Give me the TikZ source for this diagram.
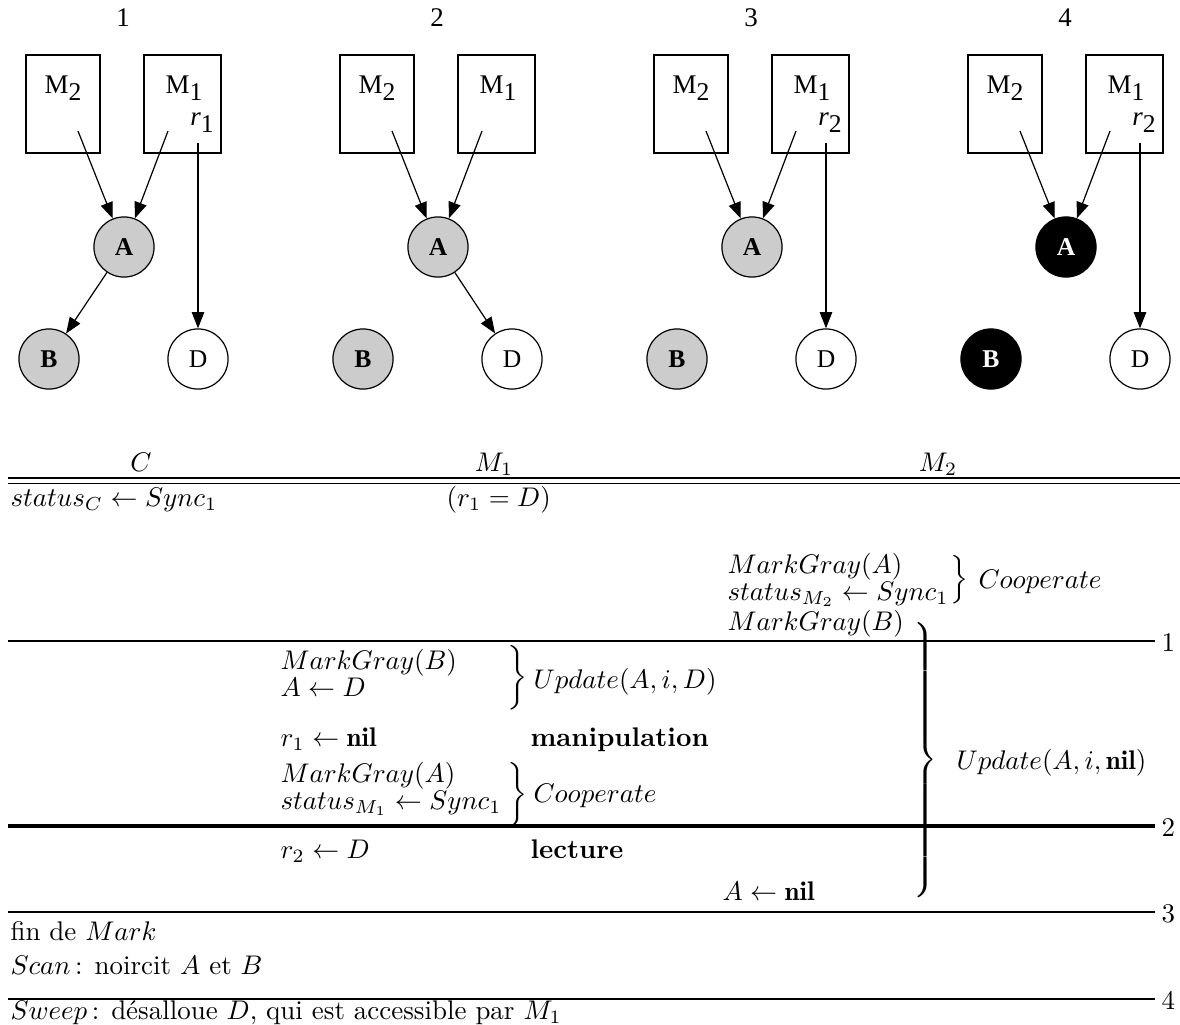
\documentclass[tikz,border=0pt]{standalone}
\usepackage{fontspec}
\newfontfamily\palfont{Liberation Serif}
\usetikzlibrary{arrows.meta}
\newcommand{\bracedelim}[1]{$\left.\vcenter{\hbox{\rule{0pt}{#1}}}\right\}$}
\newcommand{\lowsub}[1]{\raisebox{-2.6pt}{\fontsize{9.5}{9.5}\selectfont #1}}
\tikzset{
  mbox/.style={draw,line width=0.45pt,minimum height=36.4pt,inner sep=0},
  mlab/.style={inner sep=0,font=\palfont\fontsize{10}{12}\selectfont},
  num/.style={inner sep=0,font=\palfont\fontsize{10}{12}\selectfont},
  gcirc/.style={circle,draw,line width=0.45pt,fill=black!20,minimum size=22.3pt,inner sep=0,font=\palfont\fontsize{9.5}{11}\selectfont\bfseries},
  bcirc/.style={circle,draw,line width=0.45pt,fill=black,text=white,minimum size=22.3pt,inner sep=0,font=\palfont\fontsize{9.5}{11}\selectfont\bfseries},
  wcirc/.style={circle,draw,line width=0.45pt,fill=white,minimum size=22.3pt,inner sep=0,font=\palfont\fontsize{9.5}{11}\selectfont},
  arr/.style={-{Triangle[length=6pt,width=4.6pt]},line width=0.45pt},
  tl/.style={anchor=base west,inner sep=0},
  hd/.style={anchor=base,inner sep=0},
  rule/.style={line width=0.7pt},
  thickrule/.style={line width=1.15pt},
  brc/.style={inner sep=0,anchor=center},
}
\newcommand{\basepanel}[4]{%
  \begin{scope}[shift={(#2,0)}]
    \node[num] (#1n) at (123,18) {#3};
    \node[mbox,minimum width=27.5pt] (#1b2) at (63,104) {};
    \node[mbox,minimum width=28.6pt] (#1b1) at (182.5,104) {};
    \node[mlab] (#1l2) at (63,88) {M\lowsub{2}};
    \node[mlab] (#1l1) at (184,88) {M\lowsub{1}};
    \node[#4] (#1A) at (124,247) {A};
    \node[#4] (#1B) at (49,359) {B};
    \node[wcirc] (#1D) at (198,359) {D};
    \coordinate (#1s2) at (78,131);
    \coordinate (#1s1) at (168,131);
    \coordinate (#1sr) at (198,143);
    \draw[arr] (#1s2) -- (#1A);
    \draw[arr] (#1s1) -- (#1A);
  \end{scope}}
\begin{document}
\begin{tikzpicture}[x=0.371pt,y=-0.371pt]
\useasboundingbox (0,0) rectangle (1180,1024);
% ---------- top panels ----------
\basepanel{p}{0}{1}{gcirc}
\node[mlab] (pr) at (202,123) {\textit{r}\lowsub{1}};
\draw[arr] (psr) -- (pD);
\draw[arr] (pA) -- (pB);

\basepanel{q}{314}{2}{gcirc}
\draw[arr] (qA) -- (qD);

\basepanel{s}{628}{3}{gcirc}
\node[mlab] (sr) at (830,123) {\textit{r}\lowsub{2}};
\draw[arr] (ssr) -- (sD);

\basepanel{u}{942}{4}{bcirc}
\node[mlab] (ur) at (1144,123) {\textit{r}\lowsub{2}};
\draw[arr] (usr) -- (uD);

% ---------- table ----------
\node[hd] (hC) at (141,471) {$C$};
\node[hd] (hM1) at (494,471) {$M_1$};
\node[hd] (hM2) at (938,471) {$M_2$};
\draw[rule] (8,478) -- (1180,478);
\draw[rule] (8,483.5) -- (1180,483.5);

\node[tl] (t1) at (10,506) {$status_C \leftarrow Sync_1$};
\node[tl] (t2) at (446,506) {$(r_1 = D)$};

\node[tl] (t3) at (727,573) {$MarkGray(A)$};
\node[tl] (t4) at (727,600) {$status_{M_2} \leftarrow Sync_1$};
\node[brc] (br1) at (958,580) {\bracedelim{18pt}};
\node[tl] (t5) at (978,588) {$Cooperate$};
\node[tl] (t6) at (727,630) {$MarkGray(B)$};

\node[brc] (br2) at (924,760) {\bracedelim{105pt}};
\node[tl] (t7) at (956,769) {$Update(A,i,\mathbf{nil})$};

\draw[rule] (8,641) -- (1155,641);
\node[tl] (n1) at (1161,651) {1};

\node[tl] (t8) at (280,669) {$MarkGray(B)$};
\node[tl] (t9) at (280,696) {$A \leftarrow D$};
\node[brc] (br3) at (516,678) {\bracedelim{22pt}};
\node[tl] (t10) at (533,688) {$Update(A,i,D)$};
\node[tl] (t11) at (280,746) {$r_1 \leftarrow \mathbf{nil}$};
\node[tl] (t12) at (530,746) {\textbf{manipulation}};
\node[tl] (t13) at (280,782) {$MarkGray(A)$};
\node[tl] (t14) at (280,809) {$status_{M_1} \leftarrow Sync_1$};
\node[brc] (br4) at (516,795) {\bracedelim{26pt}};
\node[tl] (t15) at (533,802) {$Cooperate$};

\draw[thickrule] (8,826) -- (1155,826);
\node[tl] (n2) at (1161,836) {2};

\node[tl] (t16) at (280,858) {$r_2 \leftarrow D$};
\node[tl] (t17) at (530,858) {\textbf{lecture}};
\node[tl] (t18) at (722,900) {$A \leftarrow \mathbf{nil}$};

\draw[rule] (8,912) -- (1155,912);
\node[tl] (n3) at (1161,922) {3};

\node[tl] (t19) at (10,940) {fin de $Mark$};
\node[tl] (t20) at (10,974) {$Scan$\,: noircit $A$ et $B$};

\draw[rule] (8,999) -- (1155,999);
\node[tl] (n4) at (1161,1009) {4};

\node[tl] (t21) at (10,1019) {$Sweep$\,: désalloue $D$, qui est accessible par $M_1$};
\end{tikzpicture}
\end{document}
